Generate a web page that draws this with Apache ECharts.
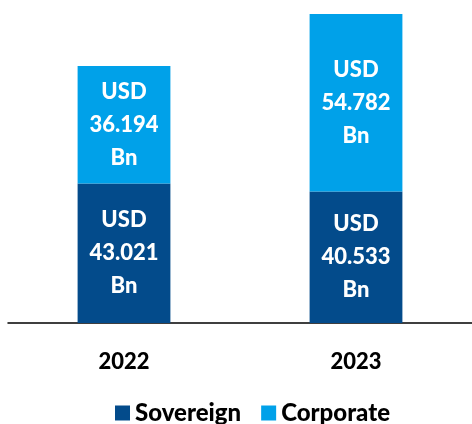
<!DOCTYPE html>
<html>
<head>
<meta charset="utf-8">
<script src="https://cdn.jsdelivr.net/npm/echarts@6/dist/echarts.min.js"></script>
<style>
  html, body { margin: 0; padding: 0; background: #fff; }
  #chart { width: 472px; height: 424px; }
</style>
</head>
<body>
<div id="chart"></div>
<script>
// chart data
var years = ['2022', '2023'];
var sovereign = [43.021, 40.533];
var corporate = [36.194, 54.782];

var myChart = echarts.init(document.getElementById('chart'));

var labelFont = 'Lato, "Open Sans", sans-serif';

function usdLabel(p) {
  return 'USD\n' + p.value.toFixed(3) + '\nBn';
}

var option = {
  animation: false,
  color: ['#034b8b', '#00a1e9'],
  grid: {
    left: 8,
    right: -5,
    top: 0,
    bottom: 101
  },
  legend: {
    bottom: -6,
    left: 110,
    icon: 'rect',
    itemWidth: 15,
    itemHeight: 15,
    itemGap: 20,
    textStyle: {
      fontFamily: labelFont,
      fontSize: 24,
      fontWeight: 900,
      color: '#000'
    },
    data: ['Sovereign', 'Corporate']
  },
  xAxis: {
    type: 'category',
    data: years,
    axisLine: { lineStyle: { color: '#000', width: 1.5 } },
    axisTick: { show: false },
    axisLabel: {
      margin: 28,
      fontFamily: labelFont,
      fontSize: 22,
      fontWeight: 900,
      color: '#000'
    }
  },
  yAxis: {
    type: 'value',
    min: 0,
    max: 99.6,
    show: false,
    splitLine: { show: false }
  },
  series: [{
    name: 'Sovereign',
    type: 'bar',
    stack: 'total',
    barWidth: '40%',
    data: sovereign,
    label: {
      show: true,
      position: 'inside',
      formatter: usdLabel,
      color: '#fff',
      fontFamily: labelFont,
      fontSize: 22,
      fontWeight: 900,
      lineHeight: 33
    }
  }, {
    name: 'Corporate',
    type: 'bar',
    stack: 'total',
    barWidth: '40%',
    data: corporate,
    label: {
      show: true,
      position: 'inside',
      formatter: usdLabel,
      color: '#fff',
      fontFamily: labelFont,
      fontSize: 22,
      fontWeight: 900,
      lineHeight: 33
    }
  }]
};

myChart.setOption(option);
</script>
</body>
</html>
